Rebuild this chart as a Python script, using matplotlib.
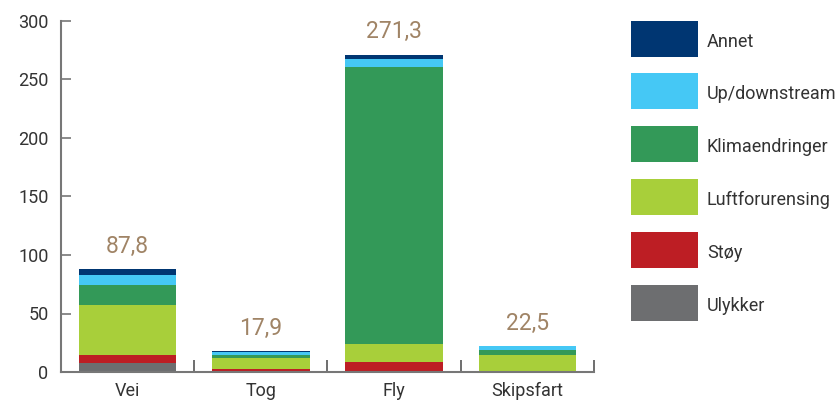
import matplotlib
matplotlib.use("Agg")
import matplotlib.pyplot as plt
from matplotlib.patches import Rectangle
import numpy as np

plt.rcParams['font.family'] = ['Roboto', 'DejaVu Sans']

categories = ["Vei", "Tog", "Fly", "Skipsfart"]
series_names = ["Ulykker", "Støy", "Luftforurensing", "Klimaendringer", "Up/downstream", "Annet"]
ulykker = [7.3, 0.0, 0.0, 0.0]
stoy = [7.5, 2.9, 8.9, 0.0]
luft = [42.5, 9.0, 15.2, 14.9]
klima = [17.0, 2.7, 236.5, 4.3]
updown = [8.5, 2.4, 6.5, 3.3]
annet = [5.0, 0.9, 4.2, 0.0]
totals = [87.8, 17.9, 271.3, 22.5]
total_labels = ["87,8", "17,9", "271,3", "22,5"]
y_ticks = [0, 50, 100, 150, 200, 250, 300]

colors = ["#6d6e70", "#bd1e24", "#a8cf3a", "#339958", "#45c8f5", "#003672"]
series = [ulykker, stoy, luft, klima, updown, annet]

W, H = 839, 401
fig = plt.figure(figsize=(W / 100, H / 100), dpi=100)
ax = fig.add_axes([61 / W, 29 / H, (594 - 61) / W, (372 - 21) / H])

x = np.arange(len(categories))
bottom = np.zeros(len(categories))
for vals, c in zip(series, colors):
    ax.bar(x, vals, width=0.73, bottom=bottom, color=c, edgecolor='none', zorder=2)
    bottom += np.array(vals)

for xi, t, lab in zip(x, totals, total_labels):
    ax.annotate(lab, (xi, t), xytext=(0, 8), textcoords='offset points',
                ha='center', va='bottom', fontsize=16.5, color='#a08466')

ax.set_xlim(-0.5, 3.5)
ax.set_ylim(0, 300)
ax.set_yticks(y_ticks)
ax.set_yticklabels([str(v) for v in y_ticks])
ax.set_xticks(x)
ax.set_xticklabels(categories)
ax.tick_params(axis='x', length=0, labelsize=13, colors='#333333', pad=7)
ax.tick_params(axis='y', direction='in', length=7, width=1.2, color='#777777',
               labelsize=13, labelcolor='#333333', pad=9)
# category separator ticks
ax.set_xticks([0.5, 1.5, 2.5, 3.5], minor=True)
ax.tick_params(axis='x', which='minor', direction='in', length=9, width=1.2, color='#555555')

for s in ['top', 'right']:
    ax.spines[s].set_visible(False)
for s in ['left', 'bottom']:
    ax.spines[s].set_color('#777777')
    ax.spines[s].set_linewidth(1.5)

# legend (top to bottom)
legend_order = list(range(len(series_names)))[::-1]
tops = [21, 73, 126, 179, 232, 285]
for top, idx in zip(tops, legend_order):
    fig.add_artist(Rectangle((631 / W, 1 - (top + 36) / H), 67 / W, 36 / H,
                             transform=fig.transFigure, color=colors[idx], lw=0))
    fig.text(707 / W, 1 - (top + 21) / H, series_names[idx], fontsize=13,
             color='#333333', ha='left', va='center')

fig.savefig("out.png", dpi=100)
